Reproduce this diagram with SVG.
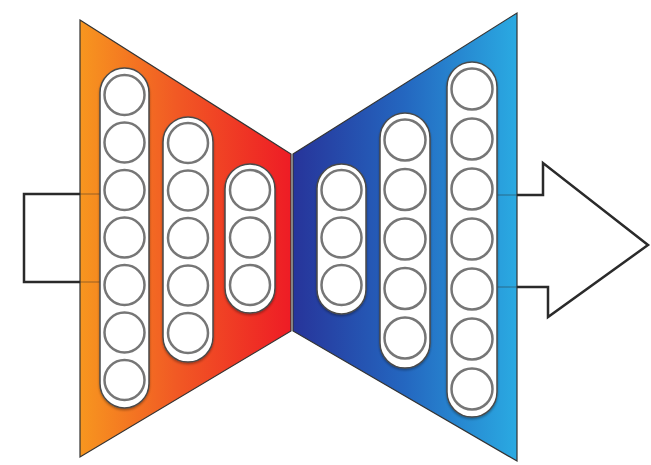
<svg xmlns="http://www.w3.org/2000/svg" width="651" height="465" viewBox="0 0 651 465">
  <defs>
    <linearGradient id="gEnc" x1="80" y1="0" x2="291" y2="0" gradientUnits="userSpaceOnUse">
      <stop offset="0" stop-color="#F7961F"/>
      <stop offset="0.45" stop-color="#F15A24"/>
      <stop offset="1" stop-color="#EE1C25"/>
    </linearGradient>
    <linearGradient id="gDec" x1="293" y1="0" x2="517" y2="0" gradientUnits="userSpaceOnUse">
      <stop offset="0" stop-color="#27349A"/>
      <stop offset="0.5" stop-color="#2467C0"/>
      <stop offset="1" stop-color="#2AAAE2"/>
    </linearGradient>
    <filter id="sh" x="-20%" y="-10%" width="140%" height="120%">
      <feDropShadow dx="0" dy="1.5" stdDeviation="1.2" flood-color="#000" flood-opacity="0.35"/>
    </filter>
  </defs>
  <style>
    .trap { stroke: #333333; stroke-width: 1.2; }
    .cap { fill: #ffffff; stroke: #4a4a4a; stroke-width: 1.5; filter: url(#sh); }
    .neu { fill: #ffffff; stroke: #767676; stroke-width: 2.5; }
    .io { fill: none; stroke: #2a2a2a; stroke-width: 2.5; stroke-linejoin: miter; }
    .faint { fill: none; stroke: #2a2a2a; stroke-width: 1.5; opacity: 0.3; }
  </style>

  <g id="encoder">
    <polygon class="trap" points="80,20 291,154 291,331 80,457" fill="url(#gEnc)"/>
  </g>
  <g id="decoder">
    <polygon class="trap" points="293,154 517,13 517,461 293,331" fill="url(#gDec)"/>
  </g>

  <g id="connectors">
    <path id="input" class="io" d="M80,194 H24 V282 H80"/>
    <path class="faint" d="M80,194 H100 M80,282 H100"/>
    <path id="output" class="io" d="M517,195 H543 V163 L648,245 L548,317 V287 H517"/>
    <path class="faint" d="M497,195 H517 M497,287 H517"/>
  </g>

  <g id="enc-layer1">
    <rect class="cap" x="100" y="68" width="49" height="340" rx="24.5"/>
    <circle class="neu" cx="124.5" cy="95" r="20"/>
    <circle class="neu" cx="124.5" cy="142.5" r="20"/>
    <circle class="neu" cx="124.5" cy="190" r="20"/>
    <circle class="neu" cx="124.5" cy="237.5" r="20"/>
    <circle class="neu" cx="124.5" cy="285" r="20"/>
    <circle class="neu" cx="124.5" cy="332.5" r="20"/>
    <circle class="neu" cx="124.5" cy="380" r="20"/>
  </g>
  <g id="enc-layer2">
    <rect class="cap" x="163" y="117" width="50" height="245" rx="25"/>
    <circle class="neu" cx="188" cy="143" r="20"/>
    <circle class="neu" cx="188" cy="190.5" r="20"/>
    <circle class="neu" cx="188" cy="238" r="20"/>
    <circle class="neu" cx="188" cy="285.5" r="20"/>
    <circle class="neu" cx="188" cy="333" r="20"/>
  </g>
  <g id="enc-layer3">
    <rect class="cap" x="225" y="164" width="50" height="149" rx="25"/>
    <circle class="neu" cx="250" cy="190" r="20"/>
    <circle class="neu" cx="250" cy="237.5" r="20"/>
    <circle class="neu" cx="250" cy="285" r="20"/>
  </g>

  <g id="dec-layer1">
    <rect class="cap" x="317" y="164" width="49" height="150" rx="24.5"/>
    <circle class="neu" cx="341.5" cy="190" r="20"/>
    <circle class="neu" cx="341.5" cy="237.5" r="20"/>
    <circle class="neu" cx="341.5" cy="285" r="20"/>
  </g>
  <g id="dec-layer2">
    <rect class="cap" x="380" y="113" width="50" height="255" rx="25"/>
    <circle class="neu" cx="405" cy="140" r="20.5"/>
    <circle class="neu" cx="405" cy="189.5" r="20.5"/>
    <circle class="neu" cx="405" cy="239" r="20.5"/>
    <circle class="neu" cx="405" cy="288.5" r="20.5"/>
    <circle class="neu" cx="405" cy="338" r="20.5"/>
  </g>
  <g id="dec-layer3">
    <rect class="cap" x="447" y="62" width="50" height="355" rx="25"/>
    <circle class="neu" cx="472" cy="89" r="20.5"/>
    <circle class="neu" cx="472" cy="139" r="20.5"/>
    <circle class="neu" cx="472" cy="189" r="20.5"/>
    <circle class="neu" cx="472" cy="239" r="20.5"/>
    <circle class="neu" cx="472" cy="289" r="20.5"/>
    <circle class="neu" cx="472" cy="339" r="20.5"/>
    <circle class="neu" cx="472" cy="389" r="20.5"/>
  </g>
</svg>
